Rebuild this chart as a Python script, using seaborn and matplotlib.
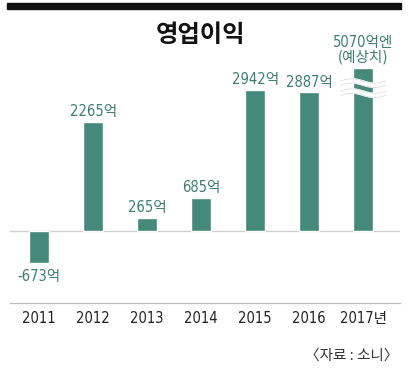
import numpy as np
import pandas as pd
import seaborn as sns
import matplotlib.pyplot as plt
from matplotlib.patches import Rectangle

years = ['2011', '2012', '2013', '2014', '2015', '2016', '2017년']
profit = [-673, 2265, 265, 685, 2942, 2887, 5070]
labels = ['-673억', '2265억', '265억', '685억', '2942억', '2887억', '5070억엔\n(예상치)']
source = '〈자료 : 소니〉'

sns.set_style('white')
plt.rcParams['font.family'] = ['DejaVu Sans', 'Noto Sans CJK KR']
plt.rcParams['font.stretch'] = 'condensed'

green = '#45897a'
label_col = '#3c7f6f'
cap = 3400  # the 2017 bar is drawn cut off

df = pd.DataFrame({'year': years, 'profit': profit, 'label': labels})
df['shown'] = df['profit'].clip(upper=cap)

fig = plt.figure(figsize=(4.09, 3.72), dpi=100)
ax = fig.add_axes([10/409, 69/372, 390/409, 253/372])

sns.barplot(data=df, x='year', y='shown', color=green, saturation=1,
            width=0.37, ax=ax)

ax.set_ylim(-1500, 3770)
ax.set_xlim(-0.54, 6.68)
ax.axhline(0, color='#cfcfcf', lw=1, zorder=0)
for s in ['top', 'left', 'right']:
    ax.spines[s].set_visible(False)
ax.spines['bottom'].set_color('#bdbdbd')
ax.spines['bottom'].set_linewidth(0.9)
ax.set_yticks([])
ax.set_xlabel('')
ax.set_ylabel('')
ax.tick_params(axis='x', length=0, pad=6, labelsize=10.5, labelcolor='#222222')

for i, row in df.iterrows():
    if row['profit'] < 0:
        ax.annotate(row['label'], (i, row['shown']), xytext=(0, -4),
                    textcoords='offset points', ha='center', va='top',
                    fontsize=10.5, color=label_col)
    else:
        ax.annotate(row['label'], (i, row['shown']), xytext=(0, 2),
                    textcoords='offset points', ha='center', va='bottom',
                    fontsize=10.5, color=label_col, linespacing=1.0)

# break marks on the last bar
xs = np.linspace(6 - 0.42, 6 + 0.42, 80)
for base in [3080, 2870]:
    ys = base + 45 * np.sin((xs - 6) * 2 * np.pi / 0.84 + np.pi)
    ax.plot(xs, ys, color='white', lw=4, zorder=5, solid_capstyle='butt')
    ax.plot(xs, ys + 45, color='#dddddd', lw=0.6, zorder=6)
    ax.plot(xs, ys - 45, color='#dddddd', lw=0.6, zorder=6)

fig.text(0.49, 0.905, '영업이익', ha='center', va='center', fontsize=17.5,
         fontweight='bold', family=['Noto Sans CJK KR'], color='#111111')
fig.text(0.975, 0.045, source, ha='right', va='center', fontsize=10.5,
         family=['Noto Sans CJK KR'], color='#333333')
fig.add_artist(Rectangle((7/409, 1 - 9/372), 394/409, 6/372,
                         transform=fig.transFigure, color='#111111'))

fig.savefig('out.png', dpi=100)
